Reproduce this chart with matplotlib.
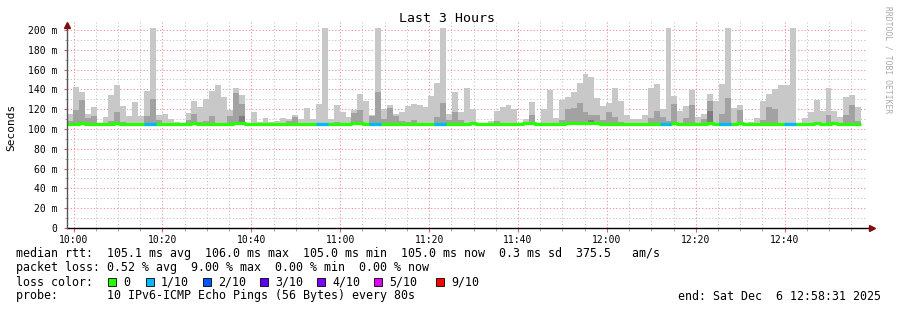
import matplotlib
matplotlib.use("Agg")
import matplotlib.pyplot as plt
from matplotlib.patches import Rectangle
from matplotlib.ticker import MultipleLocator, FixedLocator

# time axis in minutes relative to 10:00, window 09:58:31 .. 12:58:31
window_start = -(1 + 29 / 60)
step_minutes = 80 / 60

# smoke tops per 80 s step (ms): light = slowest ping, mid/dark = inner pings (0 = none)
smoke_hi = [115, 142, 137, 115, 122, 106, 112, 134, 144, 123,
            113, 127, 113, 138, 202, 114, 115, 110, 107, 106,
            116, 128, 122, 130, 138, 144, 132, 119, 141, 134,
            106, 117, 107, 111, 107, 108, 111, 110, 114, 110,
            121, 110, 125, 202, 110, 124, 117, 112, 119, 135,
            128, 114, 202, 120, 124, 115, 117, 123, 125, 124,
            122, 133, 146, 202, 115, 137, 117, 141, 120, 106,
            106, 108, 118, 122, 124, 120, 106, 110, 127, 106,
            120, 139, 111, 129, 132, 137, 146, 155.5, 152, 131,
            123, 126, 141, 128, 114, 110, 110, 114, 141, 145,
            120, 202, 133, 118, 123, 139, 112, 115, 135, 128,
            145, 202, 121, 124, 106, 107, 111, 128, 135, 140,
            144, 144, 202, 106, 111, 117, 129, 118, 141, 118,
            112, 132, 134, 122]
smoke_mid = [108, 119, 129, 111, 113, 0, 0, 108, 117, 107,
             0, 0, 0, 113, 130, 109, 0, 0, 0, 0,
             109, 115, 107, 108, 113, 0, 0, 113, 136, 125,
             0, 0, 0, 0, 0, 0, 0, 108, 112, 0,
             0, 0, 0, 0, 0, 107, 0, 0, 116, 119,
             0, 113, 137, 110, 121, 113, 108, 107, 109, 0,
             0, 0, 112, 126, 109, 117, 109, 0, 0, 0,
             0, 0, 108, 0, 0, 0, 0, 0, 114, 0,
             0, 0, 0, 109, 120, 121, 126, 117, 114, 114,
             109, 117, 112, 107, 0, 0, 0, 0, 111, 118,
             112, 108, 125, 0, 111, 124, 0, 110, 128, 0,
             115, 131, 0, 119, 0, 0, 0, 109, 122, 120,
             0, 0, 0, 0, 0, 0, 0, 0, 114, 0,
             0, 114, 124, 108]
smoke_dark = {29: 113, 88: 109, 108: 118}
ping_floor = 103.8

median_rtt = [105.0, 105.4, 106.0, 105.0, 105.0, 105.0, 105.0, 105.0, 105.6, 105.4,
              105.0, 105.0, 105.0, 105.0, 105.0, 105.0, 105.0, 105.0, 105.0, 105.4,
              105.4, 105.6, 105.0, 105.0, 105.0, 105.0, 105.0, 105.0, 105.6, 105.8,
              105.0, 105.0, 105.0, 105.0, 105.0, 105.0, 105.0, 105.0, 105.0, 105.0,
              105.0, 105.0, 105.0, 105.0, 105.0, 105.0, 105.0, 105.0, 105.6, 105.6,
              105.0, 105.0, 105.0, 104.6, 105.4, 105.0, 105.0, 105.0, 105.0, 105.0,
              105.0, 105.0, 105.0, 105.0, 105.0, 105.0, 105.0, 105.0, 106.0, 105.0,
              105.0, 105.0, 105.0, 105.0, 105.0, 105.0, 105.0, 105.6, 105.8, 105.0,
              105.0, 105.0, 105.0, 105.0, 105.6, 105.6, 105.6, 105.6, 106.0, 105.6,
              105.4, 105.0, 105.0, 105.0, 105.0, 105.0, 105.0, 105.0, 105.4, 105.4,
              105.0, 104.6, 105.6, 105.0, 105.0, 105.0, 105.4, 105.0, 105.6, 105.0,
              105.4, 104.6, 105.0, 105.6, 105.0, 105.0, 105.0, 105.0, 105.0, 105.0,
              105.0, 105.0, 105.0, 105.0, 105.4, 105.4, 105.6, 105.0, 105.4, 105.6,
              105.0, 105.0, 105.0, 105.0]
# steps where 1 of 10 pings was lost
loss_1_steps = [13, 14, 42, 43, 51, 52, 62, 63, 100, 101, 110, 111, 121, 122]

loss_labels = ["0", "1/10", "2/10", "3/10", "4/10", "5/10", "9/10"]
loss_colors = ["#26ff00", "#00b8ff", "#0059ff", "#5e00ff", "#7e00ff", "#dd00ff", "#ff0000"]

time_ticks = [0, 20, 40, 60, 80, 100, 120, 140, 160]
time_labels = ["10:00", "10:20", "10:40", "11:00", "11:20", "11:40", "12:00", "12:20", "12:40"]
y_ticks = [0, 20, 40, 60, 80, 100, 120, 140, 160, 180, 200]
y_labels = ["0"] + ["%d m" % v for v in y_ticks[1:]]

stats_rtt = "median rtt:  105.1 ms avg  106.0 ms max  105.0 ms min  105.0 ms now  0.3 ms sd  375.5   am/s"
stats_loss = "packet loss: 0.52 % avg  9.00 % max  0.00 % min  0.00 % now"
probe_text = "probe:       10 IPv6-ICMP Echo Pings (56 Bytes) every 80s"
end_text = "end: Sat Dec  6 12:58:31 2025"

MONO = "DejaVu Sans Mono"
W, H = 897, 310


def fx(px):
    return px / W


def fy(py):
    return 1 - py / H


def main():
    fig = plt.figure(figsize=(W / 100, H / 100), dpi=100)
    fig.patch.set_facecolor("white")
    ax = fig.add_axes([fx(67), fy(228), (867 - 67) / W, (228 - 22) / H])
    ax.set_xlim(window_start, window_start + 180)
    ax.set_ylim(0, 208)

    # grid
    ax.xaxis.set_major_locator(FixedLocator(time_ticks))
    ax.xaxis.set_minor_locator(MultipleLocator(5))
    ax.yaxis.set_major_locator(FixedLocator(y_ticks))
    ax.yaxis.set_minor_locator(MultipleLocator(10))
    ax.grid(which="minor", color="#c4c4c4", lw=0.7, ls=(0, (1.2, 2.2)))
    ax.grid(which="major", color="#f28c8c", lw=0.7, ls=(0, (1.2, 2.2)))
    ax.set_axisbelow(True)

    # smoke
    n = len(smoke_hi)
    lefts = [window_start + i * step_minutes for i in range(n)]
    ax.bar(lefts, [h - ping_floor for h in smoke_hi], bottom=ping_floor,
           width=step_minutes, align="edge", color="#c8c8c8", lw=0, zorder=2)
    mids = [(x, m) for x, m in zip(lefts, smoke_mid) if m > 0]
    ax.bar([x for x, _ in mids], [m - ping_floor for _, m in mids], bottom=ping_floor,
           width=step_minutes, align="edge", color="#a2a2a2", lw=0, zorder=3)
    for i, d in smoke_dark.items():
        ax.bar(lefts[i], d - ping_floor, bottom=ping_floor, width=step_minutes,
               align="edge", color="#7e7e7e", lw=0, zorder=4)

    # median line coloured by loss
    edges = lefts + [lefts[-1] + step_minutes]
    ax.step(edges, median_rtt + [median_rtt[-1]], where="post",
            color=loss_colors[0], lw=2.3, zorder=5, solid_capstyle="butt")
    for i in loss_1_steps:
        ax.plot([lefts[i], lefts[i] + step_minutes], [median_rtt[i]] * 2,
                color=loss_colors[1], lw=2.3, zorder=6, solid_capstyle="butt")

    # ticks and labels
    ax.set_xticks(time_ticks)
    ax.set_xticklabels(time_labels, fontfamily=MONO, fontsize=7)
    ax.set_yticks(y_ticks)
    ax.set_yticklabels(y_labels, fontfamily=MONO, fontsize=7)
    ax.tick_params(axis="x", which="major", length=3, color="#e06060", pad=2)
    ax.tick_params(axis="x", which="minor", length=2, color="#999999")
    ax.tick_params(axis="y", which="major", length=2, color="#e06060", pad=5)
    ax.tick_params(axis="y", which="minor", length=1.5, color="#999999")
    for s in ax.spines.values():
        s.set_visible(False)

    # axes with arrows
    ax.plot([0, 1.006], [0, 0], transform=ax.transAxes, color="black", lw=1,
            clip_on=False, zorder=7)
    ax.plot([0, 0], [0, 0.985], transform=ax.transAxes, color="#555555", lw=1,
            clip_on=False, zorder=7)
    ax.plot([1.006], [0], transform=ax.transAxes, marker=">", ms=4.5,
            color="#7a1010", clip_on=False, zorder=8)
    ax.plot([0], [0.985], transform=ax.transAxes, marker="^", ms=4.5,
            color="#7a1010", clip_on=False, zorder=8)

    fig.text(fx(447), fy(19), "Last 3 Hours", fontfamily=MONO, fontsize=9.5,
             ha="center", va="center")
    fig.text(fx(11), fy(127), "Seconds", fontfamily=MONO, fontsize=8,
             rotation=90, ha="center", va="center")
    fig.text(fx(888), fy(60), "RRDTOOL / TOBI OETIKER", fontfamily=MONO,
             fontsize=5.8, rotation=-90, ha="center", va="center", color="#aaaaaa")

    # legend block
    fig.text(fx(16), fy(254), stats_rtt, fontfamily=MONO, fontsize=8.4, va="center")
    fig.text(fx(16), fy(268), stats_loss, fontfamily=MONO, fontsize=8.4, va="center")
    fig.text(fx(16), fy(282), "loss color:", fontfamily=MONO, fontsize=8.4, va="center")
    swatch_x = [108, 146, 203, 260, 317, 374, 436]
    for sx, col, lab in zip(swatch_x, loss_colors, loss_labels):
        fig.patches.append(Rectangle((fx(sx), fy(286)), 8 / W, 8 / H, transform=fig.transFigure,
                                     facecolor=col, edgecolor="black", lw=0.6))
        fig.text(fx(sx + 15), fy(282), lab, fontfamily=MONO, fontsize=8.4, va="center")
    fig.text(fx(16), fy(296), probe_text, fontfamily=MONO, fontsize=8.4, va="center")
    fig.text(fx(881), fy(296), end_text, fontfamily=MONO, fontsize=8.4,
             va="center", ha="right")

    fig.savefig("out.png", dpi=100, facecolor="white")


if __name__ == "__main__":
    main()
